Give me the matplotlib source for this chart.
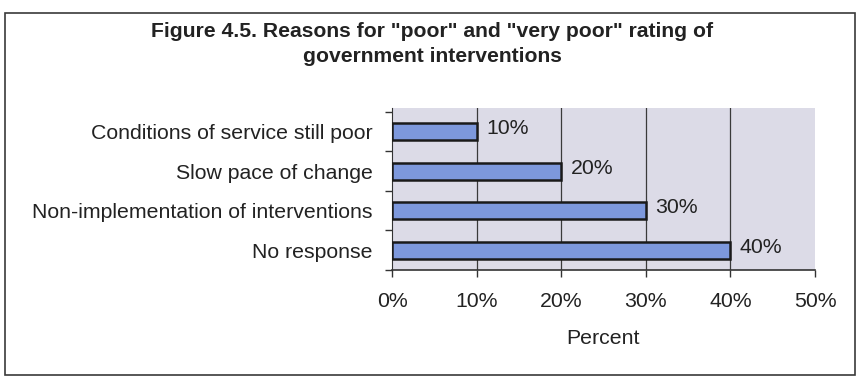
import matplotlib.pyplot as plt
from matplotlib.patches import Rectangle
from matplotlib.ticker import FixedLocator

categories = ['No response', 'Non-implementation of interventions',
              'Slow pace of change', 'Conditions of service still poor']
values = [40, 30, 20, 10]
xticks = [0, 10, 20, 30, 40, 50]

plt.rcParams['font.family'] = ['Liberation Sans', 'DejaVu Sans']
fs = 15.3

fig = plt.figure(figsize=(8.59, 3.86), dpi=100)
fig.patch.set_facecolor('white')

# outer frame round the whole chart
fig.patches.append(Rectangle((5 / 859, 11 / 386), 850 / 859, 362 / 386,
                             transform=fig.transFigure, fill=False,
                             edgecolor='#3a3a3a', linewidth=1.2))

ax = fig.add_axes([392 / 859, 1 - 270 / 386, 423 / 859, 162 / 386])
ax.set_facecolor('#dcdbe7')

ax.barh(range(len(categories)), values, height=0.42, color='#7d98dc',
        edgecolor='#1a1a1a', linewidth=1.8, zorder=3)

for i, v in enumerate(values):
    ax.text(v + 1.1, i + 0.07, '%d%%' % v, va='center', ha='left',
            fontsize=fs, color='#222222')

ax.set_xlim(0, 50)
ax.set_ylim(-0.5, 3.6)
ax.set_xticks(xticks)
ax.set_xticklabels(['%d%%' % t for t in xticks], fontsize=fs, color='#222222')
ax.set_yticks(range(len(categories)))
ax.set_yticklabels(categories, fontsize=fs, color='#222222')
ax.yaxis.set_minor_locator(FixedLocator([-0.5, 0.5, 1.5, 2.5, 3.5]))
ax.tick_params(axis='y', which='major', length=0, pad=14)
ax.tick_params(axis='y', which='minor', length=5, width=1, color='#333333')
ax.tick_params(axis='x', length=5, width=1, color='#333333', pad=11)

for t in xticks[1:-1]:
    ax.axvline(t, color='#3a3a3a', linewidth=0.9, zorder=1)

for side in ['top', 'right']:
    ax.spines[side].set_visible(False)
ax.spines['left'].set_color('#333333')
ax.spines['bottom'].set_color('#333333')
ax.spines['bottom'].set_linewidth(1.2)

ax.set_xlabel('Percent', fontsize=fs, color='#222222', labelpad=13)

fig.text(432 / 859, 1 - 44 / 386,
         'Figure 4.5. Reasons for "poor" and "very poor" rating of\ngovernment interventions',
         ha='center', va='center', fontsize=15.2, fontweight='bold',
         color='#222222', linespacing=1.4)

fig.savefig('out.png', dpi=100)
